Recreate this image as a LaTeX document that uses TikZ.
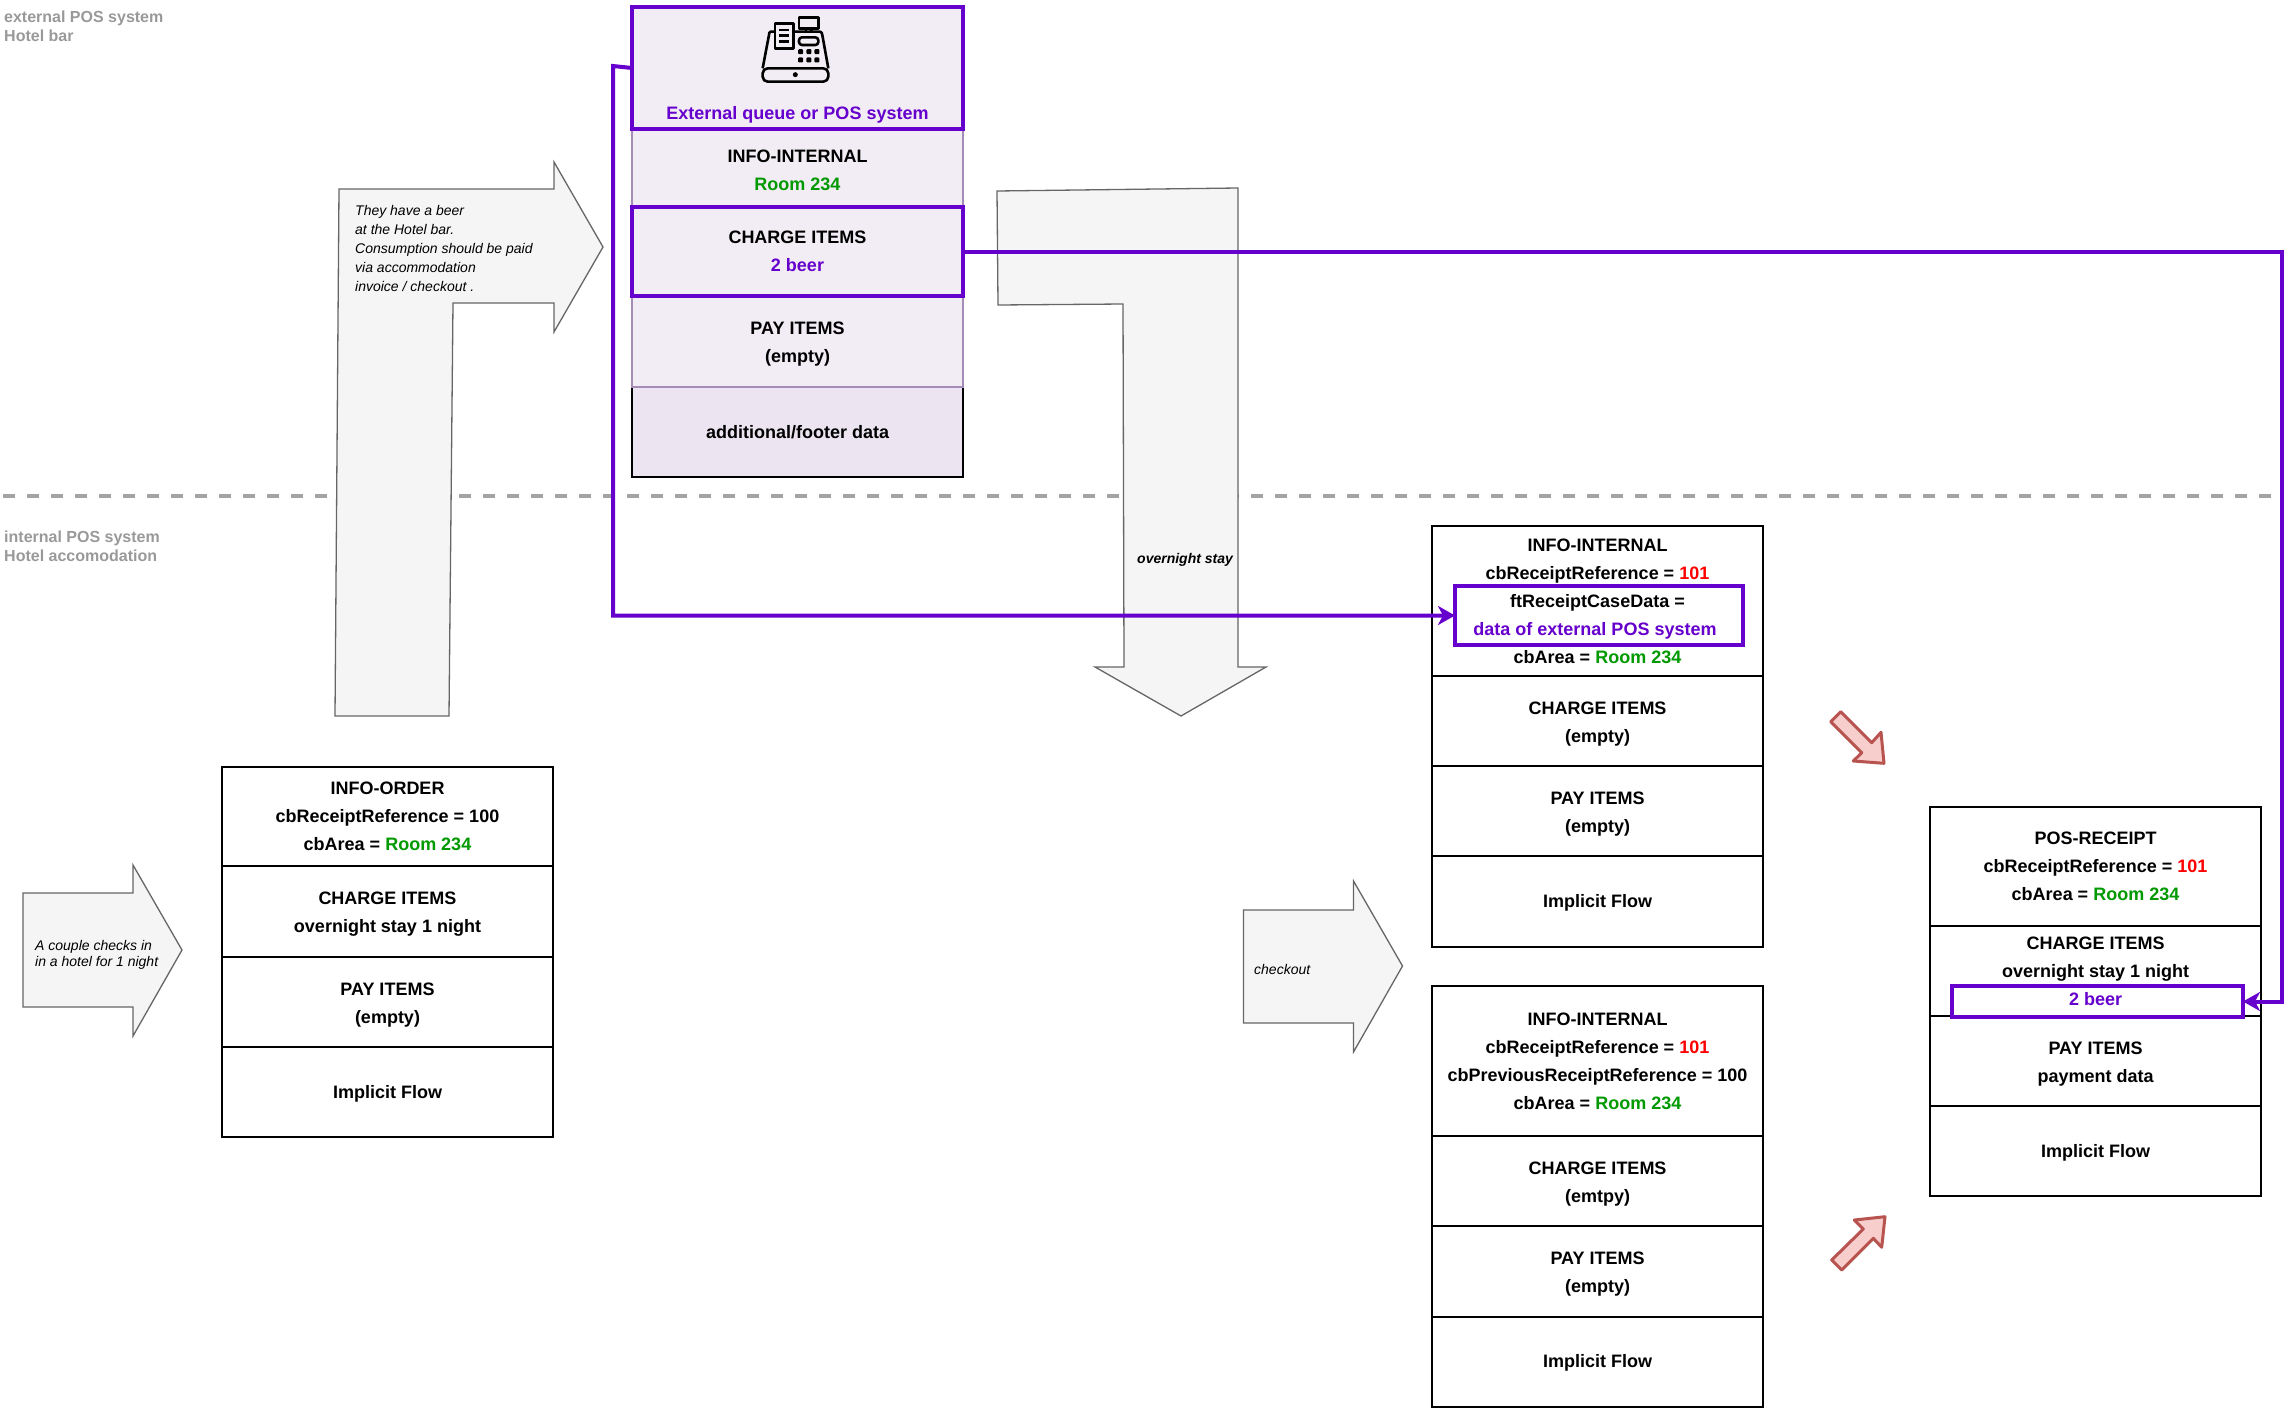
\documentclass[tikz,border=0pt]{standalone}
\usepackage{fontspec}
\setmainfont{Liberation Sans}
\usepackage{tikz}
\usetikzlibrary{arrows.meta}

\definecolor{posviolet}{HTML}{6600CC}
\definecolor{roomgreen}{HTML}{009900}
\definecolor{refred}{HTML}{FF0000}
\definecolor{mauve}{HTML}{A58DB8}
\definecolor{extfill}{HTML}{F2EDF5}
\definecolor{footfill}{HTML}{ECE5F1}
\definecolor{zonegray}{HTML}{A3A3A3}
\definecolor{pinkfill}{HTML}{F8CECC}
\definecolor{pinkline}{HTML}{B85450}

\newcommand{\roomnr}{\textcolor{roomgreen}{Room 234}}
\newcommand{\refnr}{\textcolor{refred}{101}}
\newcommand{\cellfont}{\fontsize{18}{28}\selectfont\bfseries}
\newcommand{\notefont}{\fontsize{14}{19}\selectfont\itshape}

\tikzset{
  cell/.style={draw=black, line width=2pt, fill=white, minimum width=331pt, inner sep=0pt, outer sep=0pt, anchor=north, align=center, font=\cellfont},
  extcell/.style={cell, draw=mauve, line width=1.5pt, fill=extfill},
  picked/.style={draw=posviolet, line width=4pt, inner sep=0pt, outer sep=0pt},
  flow/.style={draw=posviolet, line width=4pt, -{Stealth[length=17pt,width=19pt,inset=5pt]}},
  bigarrow/.style={draw=black!60, line width=1.3pt, fill=black!4},
  redarrow/.style={draw=pinkline, line width=3pt, fill=pinkfill, line join=round},
  note/.style={inner sep=0pt, anchor=west, align=left, font=\notefont},
  zonelabel/.style={inner sep=0pt, anchor=west, align=left, text=black!40, font=\fontsize{16}{19}\selectfont\bfseries},
  lowtext/.style={text height=#1},
  lowtext/.default=46.4pt
}

\begin{document}
\begin{tikzpicture}[x=1pt,y=-1pt]
  \useasboundingbox (0,0) rectangle (2294,1408);

    % Zones
  \coordinate (zonestart) at (3,496);
  \coordinate (zoneend) at (2280,496);
  \draw[zonegray, line width=4pt, dash pattern=on 12pt off 12pt] (zonestart) -- (zoneend);
  \node[zonelabel] (zoneext) at (4,26.5) {external POS system\\Hotel bar};
  \node[zonelabel] (zoneint) at (4,546.5) {internal POS system\\Hotel accomodation};

    % Big arrows
  \draw[bigarrow] (339,189) -- (554,189) -- (554,162) -- (603,247) -- (554,332) -- (554,303)
    -- (453,303) -- (449,716) -- (335,716) -- cycle;
  \draw[bigarrow] (997,191) -- (1238,188) -- (1238,667) -- (1266,667) -- (1181,716) -- (1095,667)
    -- (1124,667) -- (1123,304) -- (998,305) -- cycle;
  \draw[bigarrow] (23,893) -- (133,893) -- (133,865) -- (182,950) -- (133,1036) -- (133,1007) -- (23,1007) -- cycle;
  \draw[bigarrow] (1243.5,910) -- (1353.5,910) -- (1353.5,881) -- (1402.5,966) -- (1353.5,1052) -- (1353.5,1023) -- (1243.5,1023) -- cycle;
  \node[note] (notebar) at (355,248) {They have a beer\\at the Hotel bar.\\Consumption should be paid\\via accommodation\\invoice / checkout .};
  \node[note, font=\fontsize{14}{16}\selectfont\itshape] (notein) at (35,955) {A couple checks in\\in a hotel for 1 night};
  \node[note, font=\fontsize{14}{16}\selectfont\bfseries\itshape] (notestay) at (1137,559.5) {overnight stay};
  \node[note] (noteout) at (1254,969.5) {checkout};

    % External POS
  \node[cell, fill=footfill, minimum height=90pt] (extfoot) at (797.5,387) {additional/footer data};
  \node[extcell, lowtext=45.4pt, minimum height=78pt] (extinfo) at (797.5,129) {INFO-INTERNAL\\\roomnr};
  \node[extcell, lowtext, minimum height=91pt] (extpay) at (797.5,296) {PAY ITEMS\\(empty)};
  \node[cell, picked, fill=extfill, minimum height=122pt] (extbox) at (797.5,7) {};
  \node[cell, picked, fill=extfill, minimum height=89pt] (extcharge) at (797.5,207) {CHARGE ITEMS\\\textcolor{posviolet}{2 beer}};
  \node[inner sep=0pt, text=posviolet, font=\cellfont] (extlabel) at (797.5,114.5) {External queue or POS system};

    % Cash register
  \begin{scope}[shift={(600,0)}, x=0.3333pt, y=-0.3333pt, line width=2.6pt, line join=round]
    \draw (525,95) -- (512,95) to[out=180,in=85] (507,105) -- (488,205);
    \draw (580,95) -- (660,95) to[out=0,in=95] (667,105) -- (685,205);
    \draw[rounded corners=5pt] (488,205) rectangle (685,245);
    \fill (586,224) circle (7.5);
    \draw (525,70) rectangle (580,145);
    \foreach \y in {90,107,124}
      \draw (537,\y) -- (568,\y);
    \draw (597,52) rectangle (655,85);
    \draw (618,85) -- (618,95);
    \draw (634,85) -- (634,95);
    \draw[rounded corners=3pt] (597,112) rectangle (655,135);
    \foreach \x in {602,627,651}
      \foreach \y in {155,180}
        \fill[rounded corners=1pt] (\x-7.5,\y-7.5) rectangle (\x+7.5,\y+7.5);
  \end{scope}

    % Order
  \node[cell, minimum height=99pt] (orderinfo) at (387.5,767) {INFO-ORDER\\cbReceiptReference = 100\\cbArea = \roomnr};
  \node[cell, lowtext, minimum height=91pt] (ordercharge) at (387.5,866) {CHARGE ITEMS\\overnight stay 1 night};
  \node[cell, lowtext, minimum height=90pt] (orderpay) at (387.5,957) {PAY ITEMS\\(empty)};
  \node[cell, lowtext=16pt, minimum height=90pt] (orderflow) at (387.5,1047) {Implicit Flow};

    % Internal, first
  \node[cell, minimum height=150pt] (firstinfo) at (1597.5,526) {INFO-INTERNAL\\cbReceiptReference = \refnr\\ftReceiptCaseData =\\\hspace*{-5pt}\textcolor{posviolet}{data of external POS system}\\cbArea = \roomnr};
  \node[cell, lowtext, minimum height=90pt] (firstcharge) at (1597.5,676) {CHARGE ITEMS\\(empty)};
  \node[cell, lowtext, minimum height=90pt] (firstpay) at (1597.5,766) {PAY ITEMS\\(empty)};
  \node[cell, lowtext=17pt, minimum height=90.5pt] (firstflow) at (1597.5,856) {Implicit Flow};
  \node[picked, minimum width=288pt, minimum height=59pt] (databox) at (1599,615.5) {};

    % Internal, second
  \node[cell, minimum height=150pt] (secondinfo) at (1597.5,986) {INFO-INTERNAL\\cbReceiptReference = \refnr\\cbPreviousReceiptReference = 100\\cbArea = \roomnr};
  \node[cell, lowtext, minimum height=90pt] (secondcharge) at (1597.5,1136) {CHARGE ITEMS\\(emtpy)};
  \node[cell, lowtext, minimum height=90.5pt] (secondpay) at (1597.5,1226) {PAY ITEMS\\(empty)};
  \node[cell, lowtext=16pt, minimum height=90pt] (secondflow) at (1597.5,1316.5) {Implicit Flow};

    % Receipt
  \node[cell, minimum height=119pt] (receiptinfo) at (2095.5,807) {POS-RECEIPT\\cbReceiptReference = \refnr\\cbArea = \roomnr};
  \node[cell, minimum height=90pt] (receiptcharge) at (2095.5,926) {CHARGE ITEMS\\overnight stay 1 night\\\textcolor{posviolet}{2 beer}};
  \node[cell, lowtext, minimum height=90pt] (receiptpay) at (2095.5,1016) {PAY ITEMS\\payment data};
  \node[cell, lowtext=17pt, minimum height=90pt] (receiptflow) at (2095.5,1106) {Implicit Flow};
  \node[picked, minimum width=291pt, minimum height=31pt] (beerbox) at (2097.5,1001.5) {};

    % Red arrows
  \draw[redarrow] (1830.7,721.7) -- (1840.7,711.7) -- (1871.7,742.7) -- (1881,732.3) -- (1884,763.3) -- (1853.3,761) -- (1861.7,752.7) -- cycle;
  \draw[redarrow] (1831.7,1260) -- (1841.7,1270) -- (1873.3,1238.3) -- (1881.7,1247.3) -- (1885,1216.7) -- (1854.3,1220) -- (1863.3,1229) -- cycle;

    % Purple connectors
  \coordinate (leftbend) at (613,66);
  \coordinate (rightbend) at (2282,251.5);
  \draw[flow] (extbox.west) -- (leftbend) -- (leftbend |- databox.west) -- (databox.west);
  \draw[flow] (extcharge.east) -- (rightbend) -- (rightbend |- beerbox.east) -- (beerbox.east);
\end{tikzpicture}
\end{document}
